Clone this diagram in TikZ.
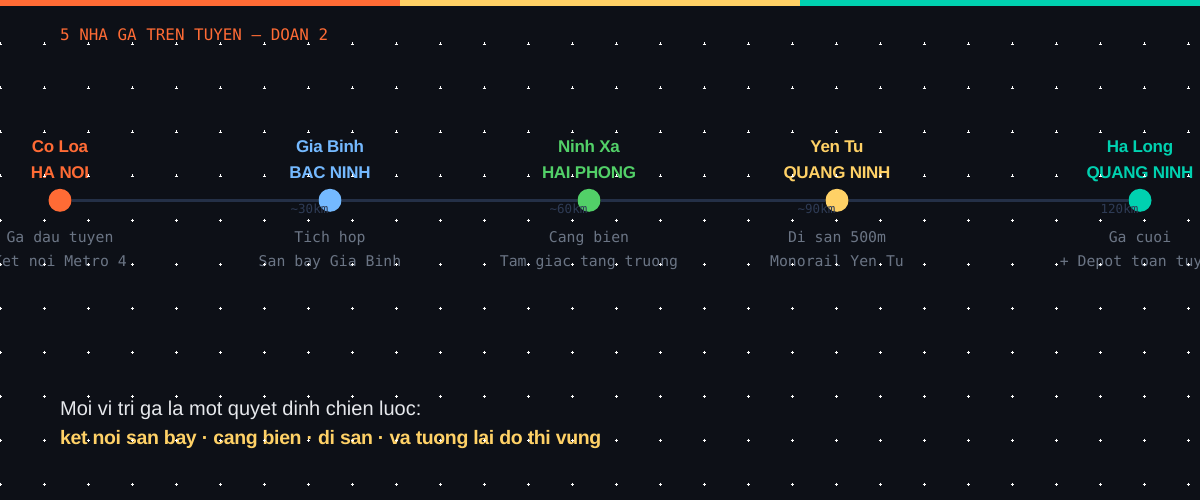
\documentclass[tikz,border=0pt]{standalone}
\usepackage{fontspec}
\setmainfont{Liberation Sans}
\newfontfamily\monofont{DejaVu Sans Mono}
\newfontfamily\tightbold[LetterSpace=-2]{Liberation Sans Bold}
\newfontfamily\plainreg{Liberation Sans}
\definecolor{bg}{HTML}{0D1017}
\definecolor{cOrange}{HTML}{FF6B35}
\definecolor{cBlue}{HTML}{74B9FF}
\definecolor{cGreen}{HTML}{52D068}
\definecolor{cYellow}{HTML}{FFD166}
\definecolor{cTeal}{HTML}{00D1B0}
\definecolor{track}{HTML}{243047}
\definecolor{distc}{HTML}{2E3B55}
\definecolor{descc}{HTML}{6B7585}
\definecolor{lightc}{HTML}{E6E8EC}
\tikzset{
  stationdot/.style={circle, inner sep=0pt, minimum size=23pt},
  namelbl/.style={anchor=base, inner sep=0pt, font=\tightbold\fontsize{17}{20}\selectfont},
  distlbl/.style={anchor=base east, inner sep=0pt, text=distc, font=\monofont\fontsize{12.5}{15}\selectfont},
  desclbl/.style={anchor=base, inner sep=0pt, text=descc, font=\monofont\fontsize{14.8}{18}\selectfont},
  trackline/.style={draw=track, line width=3pt},
}
\begin{document}
\begin{tikzpicture}[x=1pt,y=-1pt]
\useasboundingbox (0,0) rectangle (1200,500);
\fill[bg] (0,0) rectangle (1200,500);
\fill[cOrange] (0,0) rectangle (400,6);
\fill[cYellow] (400,0) rectangle (800,6);
\fill[cTeal] (800,0) rectangle (1200,6);
\node[anchor=base west, inner sep=0pt, text=cOrange, font=\monofont\fontsize{15.9}{18}\selectfont] (title) at (60,40.5) {5 NHA GA TREN TUYEN — DOAN 2};
% stations
\node[stationdot, fill=cOrange] (s1) at (60,200.3) {};
\node[stationdot, fill=cBlue] (s2) at (330,200.3) {};
\node[stationdot, fill=cGreen] (s3) at (589,200.3) {};
\node[stationdot, fill=cYellow] (s4) at (837,200.3) {};
\node[stationdot, fill=cTeal] (s5) at (1140,200.3) {};
\draw[trackline] (s1) -- (s2) (s2) -- (s3) (s3) -- (s4) (s4) -- (s5);
% names
\node[namelbl, text=cOrange] (n1) at (60,152.3) {Co Loa};
\node[namelbl, text=cOrange] (c1) at (60,178.3) {HA NOI};
\node[namelbl, text=cBlue] (n2) at (330,152.3) {Gia Binh};
\node[namelbl, text=cBlue] (c2) at (330,178.3) {BAC NINH};
\node[namelbl, text=cGreen] (n3) at (589,152.3) {Ninh Xa};
\node[namelbl, text=cGreen] (c3) at (589,178.3) {HAI PHONG};
\node[namelbl, text=cYellow] (n4) at (837,152.3) {Yen Tu};
\node[namelbl, text=cYellow] (c4) at (837,178.3) {QUANG NINH};
\node[namelbl, text=cTeal] (n5) at (1140,152.3) {Ha Long};
\node[namelbl, text=cTeal] (c5) at (1140,178.3) {QUANG NINH};
% distances
\node[distlbl] (d2) at (328.5,214) {\textasciitilde30km};
\node[distlbl] (d3) at (587.5,214) {\textasciitilde60km};
\node[distlbl] (d4) at (835.5,214) {\textasciitilde90km};
\node[distlbl] (d5) at (1138.5,214) {120km};
% descriptions
\node[desclbl] (a1) at (60,242.3) {Ga dau tuyen};
\node[desclbl] (b1) at (60,266.7) {Ket noi Metro 4};
\node[desclbl] (a2) at (330,242.3) {Tich hop};
\node[desclbl] (b2) at (330,266.7) {San bay Gia Binh};
\node[desclbl] (a3) at (589,242.3) {Cang bien};
\node[desclbl] (b3) at (589,266.7) {Tam giac tang truong};
\node[desclbl] (a4) at (837,242.3) {Di san 500m};
\node[desclbl] (b4) at (837,266.7) {Monorail Yen Tu};
\node[desclbl] (a5) at (1140,242.3) {Ga cuoi};
\node[desclbl] (b5) at (1140,266.7) {+ Depot toan tuyen};
% bottom text
\node[anchor=base west, inner sep=0pt, text=lightc, font=\plainreg\fontsize{20}{24}\selectfont] (q1) at (60,415) {Moi vi tri ga la mot quyet dinh chien luoc:};
\node[anchor=base west, inner sep=0pt, text=cYellow, font=\tightbold\fontsize{19.5}{24}\selectfont] (q2) at (60,444) {ket noi san bay · cang bien · di san · va tuong lai do thi vung};
% dot grid
\foreach \i in {0,...,27}{
  \foreach \j in {1,...,11}{
    \draw[white, line width=0.9pt] (\i*44-1.5,\j*44) -- ++(3,0) (\i*44,\j*44-1.5) -- ++(0,3);
  }
}
\end{tikzpicture}
\end{document}
